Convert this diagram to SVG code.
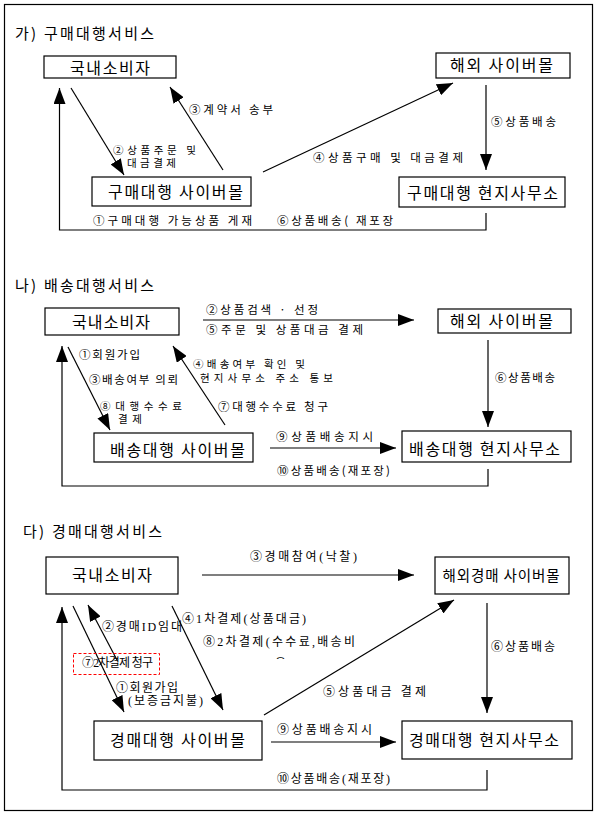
<svg xmlns="http://www.w3.org/2000/svg" width="598" height="816" viewBox="0 0 598 816">
<defs>
<style>
.frame{fill:none;stroke:#000;stroke-width:1.2}
.box{fill:#fff;stroke:#000;stroke-width:1.2}
.bt{font-family:"Noto Sans CJK KR",sans-serif;font-size:16px;fill:#000;text-anchor:middle}
.tt{font-family:"Noto Sans CJK KR",sans-serif;font-size:15px;fill:#000}
.lb{font-family:"Noto Sans CJK KR",sans-serif;font-size:11.5px;fill:#000}
.l2{font-family:"Noto Sans CJK KR",sans-serif;font-size:10.5px;fill:#000}
.ls{font-family:"Liberation Serif","Noto Sans CJK KR",serif;font-size:12px;fill:#000}
.ln{fill:none;stroke:#000;stroke-width:1.2}
.arr{marker-end:url(#ah)}
.red{fill:none;stroke:#ff0000;stroke-width:1;stroke-dasharray:3,2}
</style>
<marker id="ah" viewBox="0 0 16 12" refX="16" refY="6" markerWidth="16" markerHeight="12" markerUnits="userSpaceOnUse" orient="auto">
<path d="M0,0 L16,6 L0,12 z" fill="#000"/>
</marker>
<clipPath id="cut"><rect x="260" y="640" width="60" height="19"/></clipPath>
</defs>
<rect width="598" height="816" fill="#fff"/>
<rect class="frame" x="4.5" y="4.5" width="588" height="806"/>

<g id="titles">
<text class="tt" x="15" y="39" textLength="139" lengthAdjust="spacing">가) 구매대행서비스</text>
<text class="tt" x="15" y="291" textLength="139" lengthAdjust="spacing">나) 배송대행서비스</text>
<text class="tt" x="23" y="537" textLength="139" lengthAdjust="spacing">다) 경매대행서비스</text>
</g>

<g id="connectors">
<!-- 가 -->
<line class="ln arr" x1="71" y1="88" x2="124" y2="175"/>
<line class="ln arr" x1="223" y1="170" x2="170" y2="87"/>
<line class="ln arr" x1="263" y1="172" x2="453" y2="83"/>
<line class="ln arr" x1="486" y1="85" x2="486" y2="170"/>
<polyline class="ln arr" points="486,213 486,230 59.5,230 59.5,88"/>
<!-- 나 -->
<line class="ln arr" x1="203" y1="320" x2="414" y2="320"/>
<line class="ln arr" x1="488" y1="340" x2="488" y2="427"/>
<line class="ln arr" x1="270" y1="448" x2="396" y2="448"/>
<line class="ln arr" x1="68" y1="347" x2="110" y2="430"/>
<line class="ln arr" x1="225" y1="425" x2="173" y2="346"/>
<polyline class="ln arr" points="488,469 488,486 62,486 62,346"/>
<!-- 다 -->
<line class="ln arr" x1="202" y1="575" x2="414" y2="575"/>
<line class="ln arr" x1="487" y1="603" x2="487" y2="713"/>
<line class="ln arr" x1="271" y1="742" x2="396" y2="742"/>
<line class="ln arr" x1="264" y1="715" x2="454" y2="600"/>
<line class="ln arr" x1="73" y1="606" x2="124" y2="712"/>
<line class="ln arr" x1="117" y1="660" x2="88" y2="605"/>
<line class="ln arr" x1="172" y1="606" x2="223" y2="710"/>
<polyline class="ln arr" points="487,770 487,790 62,790 62,607"/>
</g>

<g id="node-ga-consumer"><rect class="box" x="44" y="56" width="132" height="22"/><text class="bt" x="110" y="74" textLength="80">국내소비자</text></g>
<g id="node-ga-agent"><rect class="box" x="92" y="177" width="159" height="29"/><text class="bt" x="175.5" y="198" textLength="135">구매대행 사이버몰</text></g>
<g id="node-ga-overseas"><rect class="box" x="436" y="53" width="134" height="25"/><text class="bt" x="501.5" y="71" textLength="103">해외 사이버몰</text></g>
<g id="node-ga-office"><rect class="box" x="399" y="177" width="166" height="30"/><text class="bt" x="482.5" y="199" textLength="151">구매대행 현지사무소</text></g>

<g id="node-na-consumer"><rect class="box" x="45" y="308" width="134" height="27"/><text class="bt" x="111" y="328" textLength="78">국내소비자</text></g>
<g id="node-na-agent"><rect class="box" x="94" y="433" width="159" height="29"/><text class="bt" x="177.5" y="456" textLength="135">배송대행 사이버몰</text></g>
<g id="node-na-overseas"><rect class="box" x="438" y="309" width="133" height="24"/><text class="bt" x="501.5" y="327" textLength="103">해외 사이버몰</text></g>
<g id="node-na-office"><rect class="box" x="402" y="431" width="169" height="31"/><text class="bt" x="484.5" y="455" textLength="151">배송대행 현지사무소</text></g>

<g id="node-da-consumer"><rect class="box" x="46" y="557" width="132" height="37"/><text class="bt" x="112" y="581" textLength="80">국내소비자</text></g>
<g id="node-da-agent"><rect class="box" x="94" y="721" width="168" height="39"/><text class="bt" x="177.5" y="746" textLength="135">경매대행 사이버몰</text></g>
<g id="node-da-overseas"><rect class="box" x="435" y="557" width="134" height="37"/><text class="bt" x="501" y="581" style="font-size:14.5px" textLength="117" lengthAdjust="spacing">해외경매 사이버몰</text></g>
<g id="node-da-office"><rect class="box" x="402" y="721" width="170" height="38"/><text class="bt" x="484" y="746" textLength="150">경매대행 현지사무소</text></g>

<g id="labels">
<!-- 가 -->
<text class="l2"><tspan x="113" y="153.5" textLength="83" lengthAdjust="spacing">②상품주문 및</tspan><tspan x="127" y="167" textLength="49" lengthAdjust="spacing">대금결제</tspan></text>
<text class="lb" x="189" y="114" textLength="84" lengthAdjust="spacing">③계약서 송부</text>
<text class="lb" x="313" y="162" textLength="150" lengthAdjust="spacing">④상품구매 및 대금결제</text>
<text class="lb" x="491" y="126" textLength="65" lengthAdjust="spacing">⑤상품배송</text>
<text class="lb" x="93" y="225" textLength="159" lengthAdjust="spacing">①구매대행 가능상품 게재</text>
<text class="lb" x="277" y="225" textLength="116" lengthAdjust="spacing">⑥상품배송( 재포장</text>
<!-- 나 -->
<text class="lb" x="206" y="314" textLength="112" lengthAdjust="spacing">②상품검색 · 선정</text>
<text class="lb" x="206" y="334" textLength="157" lengthAdjust="spacing">⑤주문 및 상품대금 결제</text>
<text class="lb" x="79" y="359" textLength="61" lengthAdjust="spacing">①회원가입</text>
<text class="lb" x="89" y="384" textLength="89" lengthAdjust="spacing">③배송여부 의뢰</text>
<text class="l2"><tspan x="100" y="409.5" textLength="82" lengthAdjust="spacing">⑧대행수수료</tspan><tspan x="118" y="423" textLength="24" lengthAdjust="spacing">결제</tspan></text>
<text class="l2"><tspan x="193" y="368" textLength="112" lengthAdjust="spacing">④배송여부 확인 및</tspan><tspan x="200" y="382" textLength="133" lengthAdjust="spacing">현지사무소 주소 통보</tspan></text>
<text class="lb" x="218" y="411" textLength="110" lengthAdjust="spacing">⑦대행수수료 청구</text>
<text class="lb" x="276" y="441" textLength="97" lengthAdjust="spacing">⑨상품배송지시</text>
<text class="lb" x="277" y="475" textLength="113" lengthAdjust="spacing">⑩상품배송(재포장)</text>
<text class="lb" x="495" y="382" textLength="60" lengthAdjust="spacing">⑥상품배송</text>
<!-- 다 -->
<text class="ls" x="250" y="561" textLength="107" lengthAdjust="spacing">③경매참여(낙찰)</text>
<text class="ls" x="102" y="631" textLength="80" lengthAdjust="spacing">②경매ID임대</text>
<rect class="red" x="73.5" y="653.5" width="86" height="21"/>
<text class="ls" x="82" y="667" textLength="71" lengthAdjust="spacing">⑦2차결제 청구</text>
<text class="ls"><tspan x="116" y="692" textLength="62" lengthAdjust="spacing">①회원가입</tspan><tspan x="128" y="705" textLength="75" lengthAdjust="spacing">(보증금지불)</tspan></text>
<text class="ls" x="182" y="623" textLength="124" lengthAdjust="spacing">④1차결제(상품대금)</text>
<text class="ls" x="203" y="646" textLength="152" lengthAdjust="spacing">⑧2차결제(수수료,배송비</text>
<text class="ls" x="275" y="668" clip-path="url(#cut)">용)</text>
<text class="ls" x="323" y="696" textLength="103" lengthAdjust="spacing">⑤상품대금 결제</text>
<text class="ls" x="491" y="651" textLength="64" lengthAdjust="spacing">⑥상품배송</text>
<text class="ls" x="277" y="734" textLength="95" lengthAdjust="spacing">⑨상품배송지시</text>
<text class="ls" x="277" y="783" textLength="113" lengthAdjust="spacing">⑩상품배송(재포장)</text>
</g>
</svg>
